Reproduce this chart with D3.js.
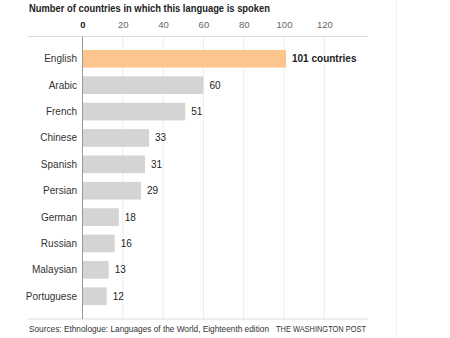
<!DOCTYPE html>
<html>
<head>
<meta charset="utf-8">
<script src="https://cdn.jsdelivr.net/npm/d3@7"></script>
<style>
  body { margin: 0; background: #fff; }
  svg { display: block; font-family: "Liberation Sans", Arial, sans-serif; }
</style>
</head>
<body>
<svg id="chart" width="450" height="338"></svg>
<script>
// Languages spoken in the most countries
const languages = ["English", "Arabic", "French", "Chinese", "Spanish", "Persian", "German", "Russian", "Malaysian", "Portuguese"];
const countries = [101, 60, 51, 33, 31, 29, 18, 16, 13, 12];
const tickValues = [0, 20, 40, 60, 80, 100, 120];
const highlight = "English";

const svg = d3.select("#chart");
const frameLeft = 28, frameRight = 368, frameTop = 36.5, frameBottom = 319;

const x = d3.scaleLinear().domain([0, 100]).range([82.5, 284]);
const y = d3.scaleBand().domain(languages).range([46, 309]).paddingInner(0.33).paddingOuter(0.15);

// title (condensed to the column width)
svg.append("text")
  .attr("x", 29).attr("y", 12)
  .attr("font-size", 11).attr("font-weight", "bold").attr("fill", "#222")
  .attr("textLength", 241).attr("lengthAdjust", "spacingAndGlyphs")
  .text("Number of countries in which this language is spoken");

// gridlines
svg.append("g").selectAll("line").data(tickValues.slice(1)).join("line")
  .attr("x1", d => x(d)).attr("x2", d => x(d))
  .attr("y1", frameTop).attr("y2", frameBottom)
  .attr("stroke", "#ececec").attr("stroke-width", 1);

// top axis labels
const axis = d3.axisTop(x).tickValues(tickValues).tickSize(0).tickPadding(0);
const gAxis = svg.append("g").attr("transform", "translate(0,28)").call(axis);
gAxis.select(".domain").remove();
gAxis.selectAll("text")
  .attr("font-size", 9.5)
  .attr("font-family", "Liberation Sans, Arial, sans-serif")
  .attr("font-weight", d => d === 0 ? "bold" : "normal")
  .attr("fill", d => d === 0 ? "#222" : "#666");

// horizontal frame lines
svg.append("line").attr("x1", frameLeft).attr("x2", frameRight).attr("y1", frameTop).attr("y2", frameTop)
  .attr("stroke", "#dcdcdc");
svg.append("line").attr("x1", frameLeft).attr("x2", frameRight).attr("y1", frameBottom).attr("y2", frameBottom)
  .attr("stroke", "#dcdcdc");

// right page edge
svg.append("line").attr("x1", 396.5).attr("x2", 396.5).attr("y1", 0).attr("y2", 338)
  .attr("stroke", "#f0f0f0");

// bars
svg.append("g").selectAll("rect").data(languages).join("rect")
  .attr("x", x(0)).attr("y", d => y(d))
  .attr("width", (d, i) => x(countries[i]) - x(0))
  .attr("height", y.bandwidth())
  .attr("fill", d => d === highlight ? "#fdc58e" : "#d4d4d4");

// zero baseline
svg.append("line").attr("x1", x(0)).attr("x2", x(0)).attr("y1", frameTop).attr("y2", frameBottom)
  .attr("stroke", "#999").attr("stroke-width", 1);

// category labels
svg.append("g").selectAll("text").data(languages).join("text")
  .attr("x", 77).attr("y", d => y(d) + y.bandwidth() / 2)
  .attr("dy", "0.35em").attr("text-anchor", "end")
  .attr("font-size", 10).attr("fill", "#333")
  .text(d => d);

// value labels
svg.append("g").selectAll("text").data(languages).join("text")
  .attr("x", (d, i) => x(countries[i]) + 6)
  .attr("y", d => y(d) + y.bandwidth() / 2)
  .attr("dy", "0.35em")
  .attr("font-size", 10)
  .attr("font-weight", d => d === highlight ? "bold" : "normal")
  .attr("fill", "#222")
  .text((d, i) => d === highlight ? countries[i] + " countries" : countries[i]);

// source line
svg.append("text").attr("x", 29).attr("y", 332)
  .attr("font-size", 8.6).attr("fill", "#333")
  .attr("textLength", 240).attr("lengthAdjust", "spacingAndGlyphs")
  .text("Sources: Ethnologue: Languages of the World, Eighteenth edition");
svg.append("text").attr("x", 276).attr("y", 332)
  .attr("font-size", 8.6).attr("fill", "#333")
  .attr("textLength", 90).attr("lengthAdjust", "spacingAndGlyphs")
  .text("THE WASHINGTON POST");
</script>
</body>
</html>
